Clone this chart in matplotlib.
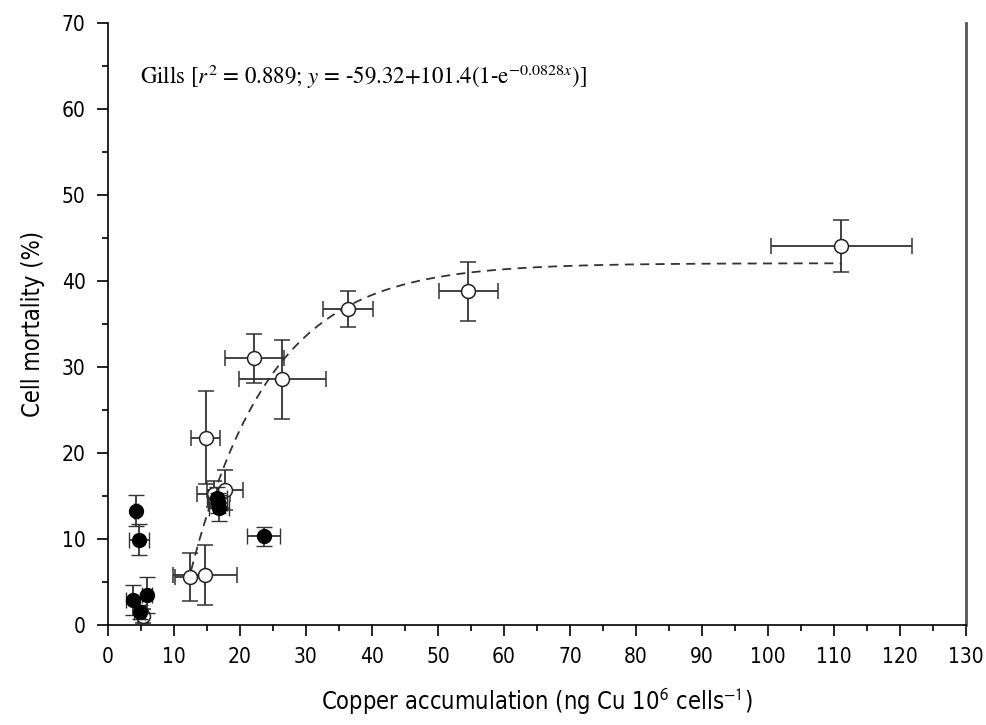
import numpy as np
import matplotlib
matplotlib.use("Agg")
import matplotlib.pyplot as plt
from matplotlib.ticker import MultipleLocator

# Gills (open circles)
gill_x = [5.3, 12.4, 14.7, 14.8, 16.0, 17.7, 22.2, 26.4, 36.4, 54.6, 111.1]
gill_y = [1.0, 5.6, 5.8, 21.8, 15.2, 15.7, 31.0, 28.6, 36.8, 38.8, 44.1]
gill_xerr = [0.8, 2.3, 4.8, 2.2, 2.5, 2.7, 4.4, 6.6, 3.8, 4.5, 10.7]
gill_yerr = [0.8, 2.8, 3.45, 5.4, 1.5, 2.3, 2.8, 4.6, 2.1, 3.4, 3.0]

# second group (filled circles)
fill_x = [4.2, 4.7, 3.8, 5.9, 4.8, 16.5, 16.6, 16.8, 23.6]
fill_y = [13.3, 9.9, 2.9, 3.5, 1.5, 14.8, 14.2, 13.6, 10.3]
fill_xerr = [0.3, 1.5, 1.0, 0.8, 0.8, 1.5, 1.5, 1.5, 2.5]
fill_yerr = [1.8, 1.8, 1.75, 2.1, 0.8, 1.2, 1.2, 1.5, 1.1]

# fitted curve parameters, as printed on the chart
fit_a, fit_b, fit_k = -59.32, 101.4, 0.0828
fit_range = (12.6, 111.1)

plt.rcParams["mathtext.fontset"] = "stix"
sans = ["Liberation Sans Narrow", "DejaVu Sans"]

fig = plt.figure(figsize=(9.86, 7.25), dpi=100)
ax = fig.add_axes([0.1095, 0.138, 0.8702, 0.830])

err_kw = dict(ecolor="#333333", elinewidth=1.3, capsize=6, capthick=1.3,
              linestyle="none", marker="o", markersize=10)

ax.errorbar(gill_x, gill_y, xerr=gill_xerr, yerr=gill_yerr,
            mfc="white", mec="#222222", mew=1.1, zorder=3, **err_kw)
ax.errorbar(fill_x, fill_y, xerr=fill_xerr, yerr=fill_yerr,
            mfc="black", mec="black", mew=1.0, zorder=4, **err_kw)

xs = np.linspace(fit_range[0], fit_range[1], 300)
ax.plot(xs, fit_a + fit_b * (1 - np.exp(-fit_k * xs)),
        color="#333333", lw=1.3, dashes=(5, 3.5), zorder=2)

ax.text(0.037, 0.91,
        r"Gills [$r^2$ = 0.889; $y$ = -59.32+101.4(1-e$^{-0.0828\mathit{x}}$)]",
        transform=ax.transAxes, family="STIXGeneral", fontsize=16.5,
        va="center")

ax.set_xlim(0, 130)
ax.set_ylim(0, 70)
ax.xaxis.set_major_locator(MultipleLocator(10))
ax.xaxis.set_minor_locator(MultipleLocator(5))
ax.yaxis.set_major_locator(MultipleLocator(10))
ax.yaxis.set_minor_locator(MultipleLocator(5))
ax.tick_params(which="major", direction="out", length=8, width=1.2,
               labelsize=15, pad=8)
ax.tick_params(which="minor", direction="out", length=4, width=1.2)
for lab in ax.get_xticklabels() + ax.get_yticklabels():
    lab.set_family(sans)
    lab.set_stretch("condensed")

ax.spines["top"].set_visible(False)
ax.spines["left"].set_linewidth(1.2)
ax.spines["bottom"].set_linewidth(1.2)
ax.spines["right"].set_color("#555555")
ax.spines["right"].set_linewidth(2)

ax.set_xlabel(r"Copper accumulation (ng Cu 10$^{\mathsf{6}}$ cells$^{\mathsf{-1}}$)",
              fontsize=17, family=sans, stretch="condensed", labelpad=14)
ax.set_ylabel("Cell mortality (%)", fontsize=17, family=sans,
              stretch="condensed", labelpad=12)

plt.savefig("out.png", dpi=100)
